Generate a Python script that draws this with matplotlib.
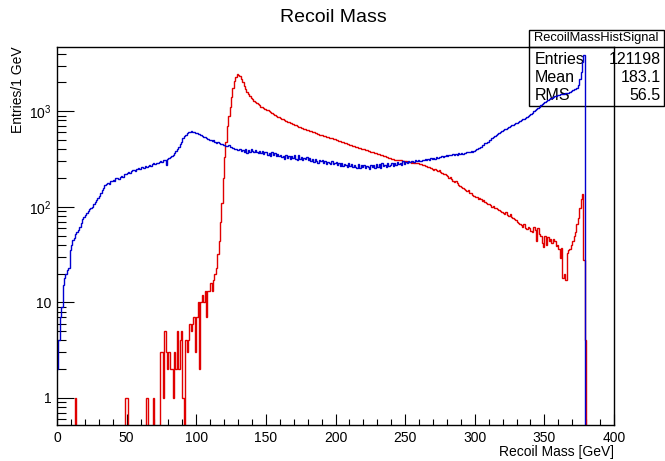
import numpy as np
import matplotlib
matplotlib.use('Agg')
from matplotlib import pyplot as plt
from matplotlib.patches import Rectangle
from matplotlib.lines import Line2D
from matplotlib.ticker import FixedLocator, FixedFormatter, MultipleLocator

plt.rcParams['font.family'] = ['Liberation Sans', 'DejaVu Sans']
plt.rcParams['mathtext.fontset'] = 'custom'
plt.rcParams['mathtext.rm'] = 'Liberation Sans'
plt.rcParams['mathtext.default'] = 'regular'

# 1 GeV bins, entries per bin
red_counts = [
    0, 0, 0, 0, 0, 0, 0, 0, 0, 0,
    0, 0, 0, 1, 0, 0, 0, 0, 0, 0,
    0, 0, 0, 0, 0, 0, 0, 0, 0, 0,
    0, 0, 0, 0, 0, 0, 0, 0, 0, 0,
    0, 0, 0, 0, 0, 0, 0, 0, 0, 1,
    1, 0, 0, 0, 0, 0, 0, 0, 0, 0,
    0, 0, 0, 0, 1, 0, 0, 0, 0, 1,
    0, 0, 0, 0, 3, 3, 1, 5, 3, 2,
    3, 2, 2, 1, 3, 2, 5, 2, 4, 5,
    1, 0, 4, 3, 4, 6, 5, 6, 7, 3,
    7, 10, 2, 10, 12, 10, 13, 7, 13, 13,
    16, 13, 17, 20, 23, 32, 44, 70, 110, 200,
    330, 480, 700, 900, 1100, 1400, 1750, 2050, 2300, 2450,
    2420, 2350, 2200, 2000, 1850, 1700, 1600, 1500, 1430, 1370,
    1330, 1280, 1240, 1210, 1180, 1150, 1120, 1095, 1070, 1055,
    1040, 1020, 995, 975, 960, 940, 920, 900, 880, 860,
    850, 835, 820, 810, 795, 780, 770, 760, 745, 735,
    720, 710, 700, 690, 685, 675, 665, 655, 648, 640,
    632, 625, 615, 610, 600, 592, 585, 578, 570, 565,
    558, 552, 545, 540, 535, 530, 525, 520, 515, 510,
    505, 498, 492, 485, 480, 475, 468, 462, 456, 450,
    445, 440, 435, 428, 424, 418, 412, 408, 404, 400,
    398, 395, 390, 386, 382, 378, 374, 370, 366, 362,
    358, 354, 350, 346, 342, 338, 334, 330, 327, 324,
    320, 316, 312, 310, 308, 312, 312, 306, 302, 300,
    298, 296, 294, 292, 290, 292, 288, 290, 290, 286,
    282, 280, 276, 272, 270, 266, 262, 258, 254, 250,
    245, 250, 242, 238, 244, 232, 226, 222, 220, 215,
    212, 200, 205, 196, 188, 180, 184, 176, 168, 165,
    160, 156, 152, 148, 145, 150, 140, 138, 134, 130,
    128, 126, 122, 124, 120, 116, 118, 112, 110, 108,
    106, 104, 100, 102, 98, 97, 95, 92, 90, 88,
    86, 84, 88, 82, 80, 83, 78, 76, 74, 72,
    70, 68, 66, 64, 62, 66, 60, 58, 62, 60,
    56, 55, 62, 57, 44, 60, 52, 50, 42, 38,
    50, 40, 48, 44, 46, 42, 46, 44, 39, 40,
    36, 29, 37, 18, 20, 17, 33, 35, 36, 40,
    44, 50, 55, 66, 76, 97, 120, 135, 28, 4,
]

blue_counts = [
    2, 4, 7, 9, 15, 18, 20, 22, 23, 35,
    40, 45, 47, 52, 54, 57, 62, 67, 74, 78,
    82, 86, 90, 95, 98, 100, 106, 112, 118, 124,
    130, 140, 150, 158, 168, 172, 178, 174, 185, 188,
    192, 186, 198, 200, 196, 206, 212, 204, 218, 222,
    225, 232, 228, 236, 240, 245, 238, 248, 252, 246,
    258, 262, 255, 268, 262, 270, 275, 264, 280, 285,
    278, 290, 286, 295, 300, 292, 305, 310, 276, 318,
    322, 330, 340, 352, 365, 380, 400, 425, 450, 480,
    520, 545, 570, 590, 605, 612, 618, 610, 604, 595,
    590, 584, 575, 560, 552, 540, 532, 520, 512, 505,
    500, 488, 495, 480, 470, 476, 462, 458, 450, 446,
    445, 436, 430, 438, 420, 418, 410, 404, 400, 395,
    392, 405, 380, 396, 372, 400, 366, 390, 376, 398,
    380, 370, 390, 376, 368, 384, 362, 380, 358, 372,
    375, 352, 364, 340, 370, 348, 362, 338, 356, 342,
    350, 328, 342, 320, 348, 326, 340, 318, 336, 322,
    344, 320, 312, 350, 318, 332, 310, 326, 314, 330,
    306, 324, 300, 318, 296, 316, 302, 290, 312, 298,
    308, 286, 300, 282, 296, 288, 278, 298, 282, 290,
    296, 274, 288, 270, 284, 266, 282, 272, 262, 284,
    268, 280, 258, 276, 262, 254, 278, 256, 272, 260,
    274, 256, 270, 262, 250, 276, 258, 272, 254, 280,
    262, 278, 256, 284, 266, 272, 258, 286, 268, 276,
    290, 268, 284, 274, 296, 278, 290, 272, 300, 282,
    296, 288, 300, 292, 304, 300, 294, 306, 298, 310,
    304, 300, 312, 308, 315, 306, 318, 312, 322, 316,
    326, 320, 330, 324, 334, 328, 338, 332, 340, 345,
    338, 346, 350, 344, 354, 348, 358, 352, 362, 356,
    365, 360, 368, 362, 372, 378, 370, 382, 376, 380,
    392, 398, 408, 415, 426, 438, 448, 460, 470, 480,
    495, 505, 520, 532, 548, 560, 576, 590, 605, 620,
    632, 648, 656, 660, 680, 695, 710, 725, 740, 755,
    760, 778, 790, 808, 820, 836, 850, 875, 890, 910,
    935, 960, 1000, 1020, 1050, 1080, 1110, 1160, 1180, 1210,
    1240, 1270, 1300, 1330, 1360, 1390, 1420, 1440, 1460, 1470,
    1480, 1500, 1510, 1520, 1530, 1540, 1540, 1560, 1600, 1620,
    1650, 1690, 1720, 1750, 1900, 2200, 2600, 3300, 3900,
]

# stats box contents
stat_name = 'RecoilMassHistSignal'
stat_labels = ['Entries', 'Mean', 'RMS']
stat_values = ['121198', '183.1', '56.5']

# histogram arrays over the full 0-400 GeV range
edges = np.arange(0, 401, 1)
h_red = np.zeros(400)
h_red[:len(red_counts)] = red_counts
h_blue = np.zeros(400)
h_blue[:len(blue_counts)] = blue_counts
# empty bins: push below the frame so the step goes down to the axis
h_red = np.where(h_red > 0, h_red, 1e-3)
h_blue = np.where(h_blue > 0, h_blue, 1e-3)

W, H = 665, 461
fig = plt.figure(figsize=(W / 100, H / 100), dpi=100)
ax = fig.add_axes([57 / W, 1 - 425 / H, (614 - 57) / W, (425 - 47) / H])

ax.stairs(h_red, edges, baseline=None, color='#e00000', linewidth=1.0, zorder=2)
ax.stairs(h_blue, edges, baseline=None, color='#0000d0', linewidth=1.0, zorder=4)

ax.set_yscale('log')
ax.set_xlim(0, 400)
ax.set_ylim(0.52, 4700)

# ROOT-like ticks
ax.xaxis.set_major_locator(MultipleLocator(50))
ax.xaxis.set_minor_locator(MultipleLocator(10))
ax.yaxis.set_major_locator(FixedLocator([1, 10, 100, 1000]))
ax.yaxis.set_major_formatter(FixedFormatter(['1', '10', '$10^{2}$', '$10^{3}$']))
minor = [m * 10.0 ** e for e in range(-1, 4) for m in range(2, 10)]
ax.yaxis.set_minor_locator(FixedLocator(minor))
ax.yaxis.set_minor_formatter(FixedFormatter([''] * len(minor)))
ax.tick_params(axis='x', which='major', direction='in', length=8, width=0.8,
               labelsize=10, pad=4, top=False)
ax.tick_params(axis='x', which='minor', direction='in', length=4, width=0.8, top=False)
ax.tick_params(axis='y', which='major', direction='in', length=12.5, width=0.8,
               labelsize=10, pad=4, right=False)
ax.tick_params(axis='y', which='minor', direction='in', length=6.5, width=0.8, right=False)
for s in ax.spines.values():
    s.set_linewidth(1.0)
    s.set_zorder(5)

# titles
fig.text(333 / W, 1 - 18 / H, 'Recoil Mass', ha='center', va='center', fontsize=14)
fig.text(614 / W, 1 - 452 / H, 'Recoil Mass [GeV]', ha='right', va='center', fontsize=10)
fig.text(18 / W, 1 - 46 / H, 'Entries/1 GeV', ha='center', va='top', rotation=90, fontsize=10)

# stats box (drawn above red, below blue)
bx0, bx1, by0, by1, bsep = 529, 664, 30, 106, 47
ax.add_patch(Rectangle((bx0 / W, 1 - by1 / H), (bx1 - bx0) / W, (by1 - by0) / H,
                       transform=fig.transFigure, facecolor='white', edgecolor='black',
                       linewidth=1.0, clip_on=False, zorder=3))
ax.add_line(Line2D([bx0 / W, bx1 / W], [1 - bsep / H, 1 - bsep / H],
                   transform=fig.transFigure, color='black', linewidth=1.0,
                   clip_on=False, zorder=3))
ax.text((bx0 + bx1) / 2 / W, 1 - 38.5 / H, stat_name, transform=fig.transFigure,
        ha='center', va='center', fontsize=9.3, zorder=3, clip_on=False)
for i in range(len(stat_labels)):
    yy = 1 - (60 + 18 * i) / H
    ax.text(535 / W, yy, stat_labels[i], transform=fig.transFigure,
            ha='left', va='center', fontsize=11.5, zorder=3, clip_on=False)
    ax.text(661 / W, yy, stat_values[i], transform=fig.transFigure,
            ha='right', va='center', fontsize=11.5, zorder=3, clip_on=False)

plt.savefig('out.png', dpi=100)
